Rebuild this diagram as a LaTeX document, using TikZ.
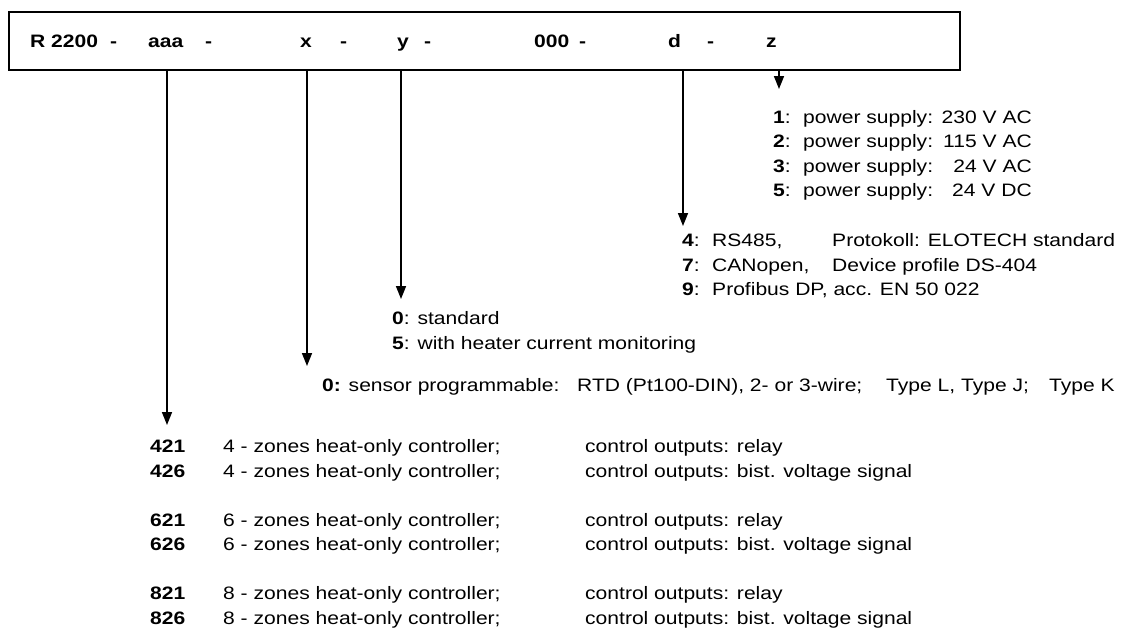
\documentclass[tikz,border=0pt]{standalone}
\usepackage{fontspec}
\setmainfont{Liberation Sans}[FakeStretch=1.17]
\usetikzlibrary{arrows.meta}

\tikzset{
  lbl/.style={anchor=base west, inner sep=0pt, font=\fontsize{18}{24}\selectfont},
  lblr/.style={lbl, anchor=base east},
  field/.style={lbl, font=\fontsize{18}{24}\selectfont\bfseries},
  pointer/.style={line width=1.6pt, -{Triangle[length=13pt,width=10pt]}},
}

\begin{document}
\begin{tikzpicture}[x=1pt,y=-1pt]
  \useasboundingbox (0,0) rectangle (1121,635);

  % type code box
  \node (code) [draw, line width=2.2pt, anchor=north west, inner sep=0pt,
    minimum width=951pt, minimum height=58pt] at (8,11) {};
  \foreach \x/\t in {30/R 2200, 110/-, 148/aaa, 205/-, 300/x, 340/-,
                     397/y, 424/-, 534/000, 579/-, 668/d, 707/-, 766/z}
    \node[field] at (\x,47) {\t};

  % arrow tips
  \coordinate (tipz) at (779,89);
  \coordinate (tipd) at (683,226);
  \coordinate (tipy) at (401,299);
  \coordinate (tipx) at (307,366);
  \coordinate (tipa) at (167,425);
  \foreach \c in {tipz,tipd,tipy,tipx,tipa}
    \draw[pointer] (\c |- code.south) -- (\c);

  % z: power supply
  \foreach \n/\v/\y in {1/230 V AC/123, 2/115 V AC/147.5, 3/24 V AC/172, 5/24 V DC/196.5} {
    \node[lbl] (zn\n) at (773,\y) {\textbf{\n}:};
    \node[lbl] (zp\n) at (803,\y) {power supply:};
    \node[lblr] (zv\n) at (1032,\y) {\v};
  }

  % d: interface
  \node[lbl] (d4) at (682,246.5) {\textbf{4}:};
  \node[lbl] (d4a) at (712,246.5) {RS485,};
  \node[lbl] (d4b) at (832,246.5) {Protokoll: ELOTECH standard};
  \node[lbl] (d7) at (682,271) {\textbf{7}:};
  \node[lbl] (d7a) at (712,271) {CANopen,};
  \node[lbl] (d7b) at (832,271) {Device profile DS-404};
  \node[lbl] (d9) at (682,295.5) {\textbf{9}:};
  \node[lbl] (d9a) at (712,295.5) {Profibus DP, acc. EN 50 022};

  % y: options
  \node[lbl] (y0) at (392,324.5) {\textbf{0}: standard};
  \node[lbl] (y5) at (392,349) {\textbf{5}: with heater current monitoring};

  % x: sensor
  \node[lbl] (x0) at (322,391.5) {\textbf{0:} sensor programmable:};
  \node[lbl] (x0a) at (577,391.5) {RTD (Pt100-DIN), 2- or 3-wire;};
  \node[lbl] (x0b) at (886,391.5) {Type L, Type J;};
  \node[lbl] (x0c) at (1049,391.5) {Type K};

  % aaa: controller types
  \foreach \n/\z/\o/\y in {421/4/relay/452.5, 426/4/bist. voltage signal/477,
                           621/6/relay/526, 626/6/bist. voltage signal/550.5,
                           821/8/relay/599.5, 826/8/bist. voltage signal/624} {
    \node[lbl] (a\n) at (150,\y) {\textbf{\n}};
    \node[lbl] (a\n z) at (223,\y) {\z\ - zones heat-only controller;};
    \node[lbl] (a\n o) at (585,\y) {control outputs: \o};
  }
\end{tikzpicture}
\end{document}
